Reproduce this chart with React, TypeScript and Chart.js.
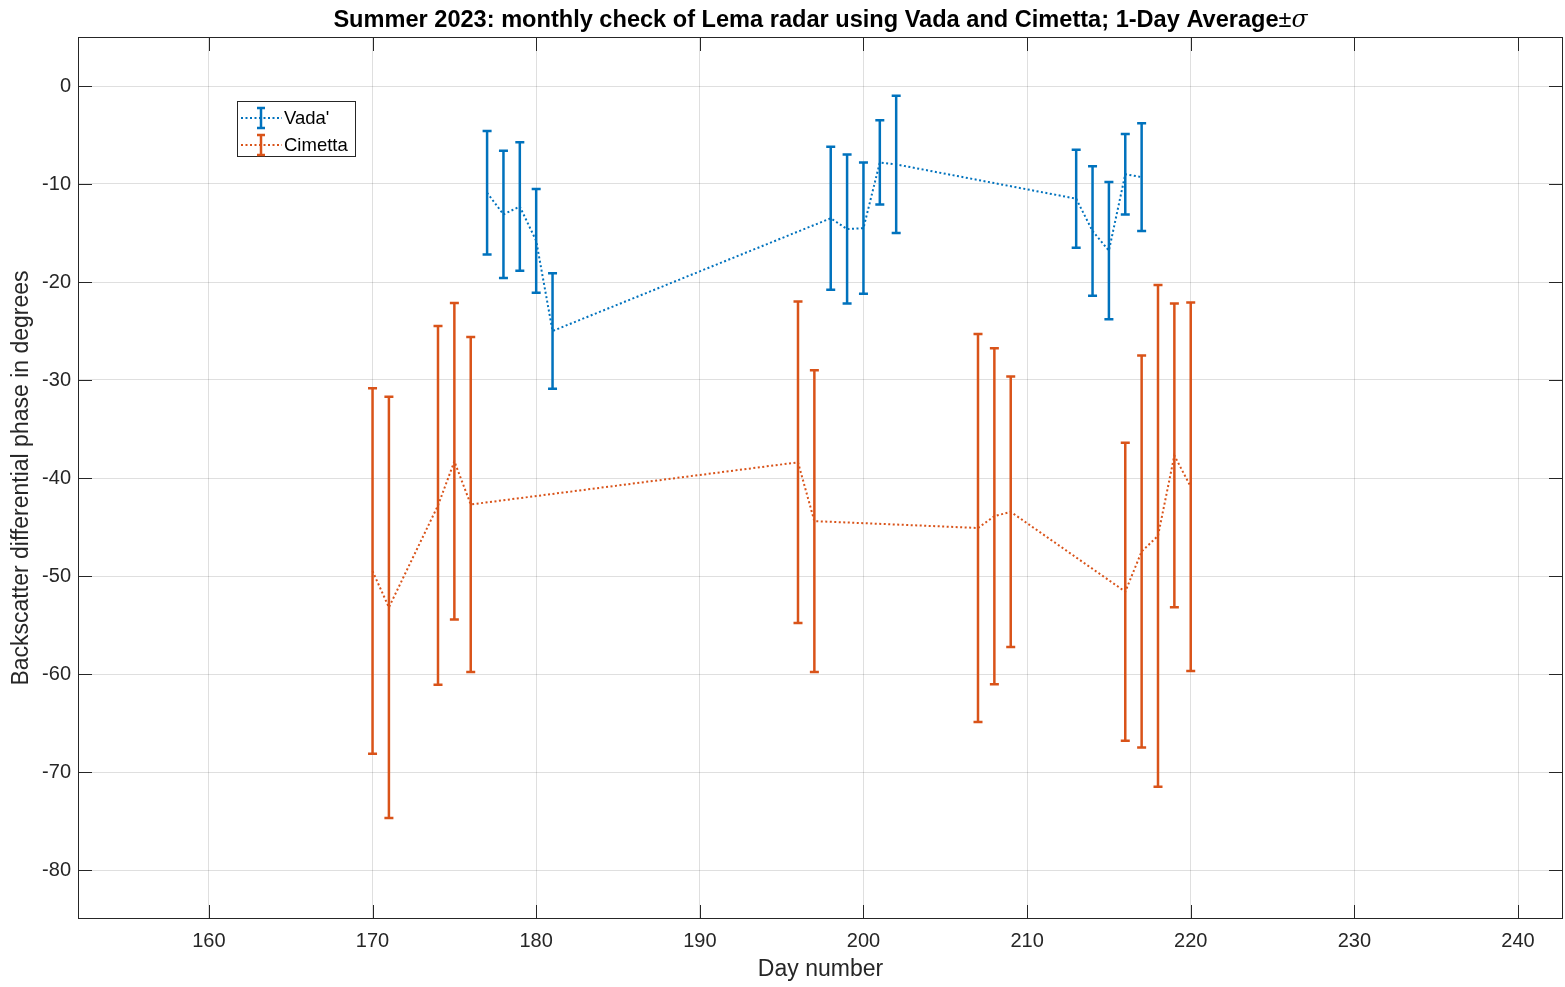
import React, { useEffect, useRef } from "react";
import { Chart, registerables } from "chart.js";

Chart.register(...registerables);

const vadaDays = [177, 178, 179, 180, 181, 198, 199, 200, 201, 202, 213, 214, 215, 216, 217];
const vadaMean = [-10.9, -13.1, -12.3, -15.8, -25.0, -13.5, -14.6, -14.5, -7.8, -8.0, -11.5, -14.8, -16.8, -9.0, -9.3];
const vadaSigma = [6.3, 6.5, 6.55, 5.3, 5.9, 7.3, 7.6, 6.7, 4.3, 7.0, 5.0, 6.6, 7.0, 4.1, 5.5];

const cimettaDays = [170, 171, 174, 175, 176, 196, 197, 207, 208, 209, 216, 217, 218, 219, 220];
const cimettaMean = [-49.5, -53.2, -42.8, -38.3, -42.7, -38.4, -44.4, -45.1, -43.9, -43.45, -51.6, -47.5, -45.9, -37.7, -40.9];
const cimettaSigma = [18.65, 21.5, 18.3, 16.15, 17.1, 16.4, 15.4, 19.8, 17.15, 13.8, 15.2, 20.0, 25.6, 15.5, 18.8];

const xTicks = [160, 170, 180, 190, 200, 210, 220, 230, 240];
const yTicks = [-80, -70, -60, -50, -40, -30, -20, -10, 0];

const seriesNames = ["Vada'", "Cimetta"];
const seriesColors = ["#0072BD", "#D95319"];

const titleMain = "Summer 2023: monthly check of Lema radar using Vada and Cimetta; 1-Day Average";
const xTitle = "Day number";
const yTitle = "Backscatter differential phase in degrees";

const FONT = "'Liberation Sans', Arial, Helvetica, sans-serif";
const TXT = "#262626";

const series = [
  { days: vadaDays, mean: vadaMean, sigma: vadaSigma },
  { days: cimettaDays, mean: cimettaMean, sigma: cimettaSigma },
];

export default function App() {
  const ref = useRef<HTMLCanvasElement | null>(null);
  useEffect(() => {
    document.body.style.margin = "0";
    const canvas = ref.current;
    if (!canvas) return;

    const errorBars = {
      id: "errorBars",
      afterDatasetsDraw(chart: any) {
        const ctx = chart.ctx;
        const xs = chart.scales.x;
        const ys = chart.scales.y;
        ctx.save();
        series.forEach((s, si) => {
          ctx.strokeStyle = seriesColors[si];
          ctx.lineWidth = 2.5;
          ctx.setLineDash([]);
          s.days.forEach((d, i) => {
            const x = xs.getPixelForValue(d);
            const yt = ys.getPixelForValue(s.mean[i] + s.sigma[i]);
            const yb = ys.getPixelForValue(s.mean[i] - s.sigma[i]);
            ctx.beginPath();
            ctx.moveTo(x, yt);
            ctx.lineTo(x, yb);
            ctx.moveTo(x - 4.5, yt);
            ctx.lineTo(x + 4.5, yt);
            ctx.moveTo(x - 4.5, yb);
            ctx.lineTo(x + 4.5, yb);
            ctx.stroke();
          });
        });
        ctx.restore();
      },
    };

    const decor = {
      id: "decor",
      afterDraw(chart: any) {
        const ctx = chart.ctx;
        const a = chart.chartArea;
        const xs = chart.scales.x;
        const ys = chart.scales.y;
        ctx.save();
        // box
        ctx.strokeStyle = TXT;
        ctx.lineWidth = 1;
        ctx.setLineDash([]);
        ctx.strokeRect(Math.round(a.left) + 0.5, Math.round(a.top) + 0.5, Math.round(a.right - a.left) - 1, Math.round(a.bottom - a.top) - 1);
        // inward ticks
        const tl = 14;
        ctx.beginPath();
        xTicks.forEach((v) => {
          const x = Math.round(xs.getPixelForValue(v)) + 0.5;
          ctx.moveTo(x, a.bottom);
          ctx.lineTo(x, a.bottom - tl);
          ctx.moveTo(x, a.top);
          ctx.lineTo(x, a.top + tl);
        });
        yTicks.forEach((v) => {
          const y = Math.round(ys.getPixelForValue(v)) + 0.5;
          ctx.moveTo(a.left, y);
          ctx.lineTo(a.left + tl, y);
          ctx.moveTo(a.right, y);
          ctx.lineTo(a.right - tl, y);
        });
        ctx.stroke();

        // title, scaled to the reference width
        const cx = (a.left + a.right) / 2;
        ctx.fillStyle = "#000";
        ctx.textBaseline = "alphabetic";
        ctx.font = `bold 20px ${FONT}`;
        const base = ctx.measureText(titleMain + "±σ").width;
        const fs = Math.min(26, (20 * 975) / base);
        const fMain = `bold ${fs}px ${FONT}`;
        const fPm = `${fs}px ${FONT}`;
        const fSig = `italic ${fs}px 'DejaVu Serif', serif`;
        ctx.font = fMain;
        const w1 = ctx.measureText(titleMain).width;
        ctx.font = fPm;
        const w2 = ctx.measureText("±").width;
        ctx.font = fSig;
        const w3 = ctx.measureText("σ").width;
        let tx = cx - (w1 + w2 + w3) / 2;
        ctx.textAlign = "left";
        ctx.font = fMain;
        ctx.fillText(titleMain, tx, 26.5);
        tx += w1;
        ctx.font = fPm;
        ctx.fillText("±", tx, 26.5);
        tx += w2;
        ctx.font = fSig;
        ctx.fillText("σ", tx, 26.5);

        // axis titles
        ctx.fillStyle = TXT;
        ctx.textBaseline = "middle";
        ctx.font = `23px ${FONT}`;
        ctx.textAlign = "center";
        ctx.fillText(xTitle, cx, 970);
        ctx.save();
        ctx.translate(22, (a.top + a.bottom) / 2);
        ctx.rotate(-Math.PI / 2);
        ctx.fillText(yTitle, 0, 0);
        ctx.restore();

        // legend
        const lx = 237.5, ly = 101.5, lw = 118, lh = 55;
        ctx.fillStyle = "#fff";
        ctx.fillRect(lx, ly, lw, lh);
        ctx.strokeStyle = TXT;
        ctx.lineWidth = 1;
        ctx.strokeRect(lx, ly, lw, lh);
        seriesNames.forEach((name, i) => {
          const y = 118 + i * 27;
          ctx.strokeStyle = seriesColors[i];
          ctx.lineWidth = 2;
          ctx.setLineDash([2, 2.5]);
          ctx.beginPath();
          ctx.moveTo(241, y);
          ctx.lineTo(282, y);
          ctx.stroke();
          ctx.setLineDash([]);
          ctx.lineWidth = 2.5;
          ctx.beginPath();
          ctx.moveTo(261, y - 10);
          ctx.lineTo(261, y + 10);
          ctx.moveTo(257, y - 10);
          ctx.lineTo(265, y - 10);
          ctx.moveTo(257, y + 10);
          ctx.lineTo(265, y + 10);
          ctx.stroke();
          ctx.fillStyle = "#000";
          ctx.font = `18.5px ${FONT}`;
          ctx.textAlign = "left";
          ctx.textBaseline = "middle";
          ctx.fillText(name, 284, y + 1);
        });
        ctx.restore();
      },
    };

    const chart = new Chart(canvas, {
      type: "line",
      data: {
        datasets: series.map((s, si) => ({
          label: seriesNames[si],
          data: s.days.map((d, i) => ({ x: d, y: s.mean[i] })),
          borderColor: seriesColors[si],
          backgroundColor: seriesColors[si],
          borderWidth: 2,
          borderDash: [2, 2.5],
          pointRadius: 0,
          fill: false,
          tension: 0,
        })),
      },
      options: {
        animation: false,
        responsive: false,
        maintainAspectRatio: false,
        layout: { padding: { left: 0, top: 37, right: 2, bottom: 0 } },
        plugins: {
          legend: { display: false },
          title: { display: false },
          tooltip: { enabled: false },
        },
        scales: {
          x: {
            type: "linear",
            min: 152,
            max: 242.75,
            afterBuildTicks: (s: any) => {
              s.ticks = xTicks.map((v) => ({ value: v }));
            },
            afterFit: (s: any) => {
              s.height = 68;
            },
            grid: { color: "rgba(38,38,38,0.15)", drawTicks: false, lineWidth: 1 },
            border: { display: false },
            ticks: {
              color: TXT,
              font: { family: FONT, size: 20 },
              padding: 10,
              maxRotation: 0,
              autoSkip: false,
            },
          },
          y: {
            type: "linear",
            min: -85,
            max: 5,
            afterBuildTicks: (s: any) => {
              s.ticks = yTicks.map((v) => ({ value: v }));
            },
            afterFit: (s: any) => {
              s.width = 78;
            },
            grid: { color: "rgba(38,38,38,0.15)", drawTicks: false, lineWidth: 1 },
            border: { display: false },
            ticks: {
              color: TXT,
              font: { family: FONT, size: 20 },
              padding: 7,
              autoSkip: false,
            },
          },
        },
      },
      plugins: [errorBars, decor],
    });
    return () => chart.destroy();
  }, []);

  return (
    <div style={{ width: 1565, height: 987, background: "#fff" }}>
      <canvas ref={ref} width={1565} height={987} style={{ display: "block" }} />
    </div>
  );
}
